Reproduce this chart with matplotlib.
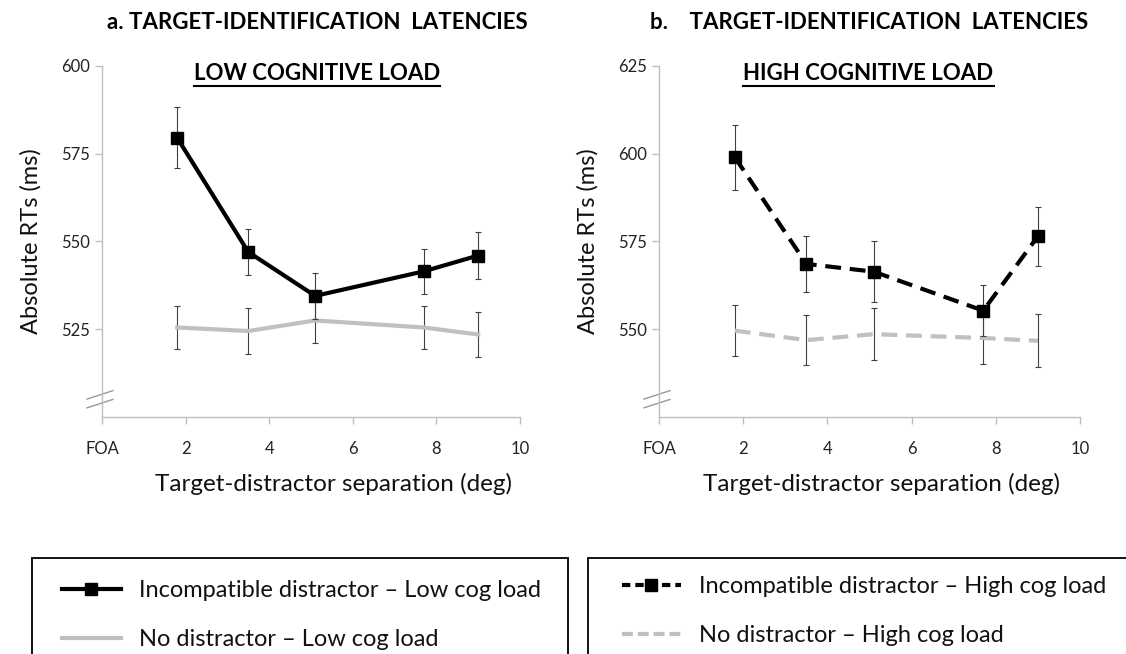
import numpy as np
import matplotlib
matplotlib.use("Agg")
import matplotlib.pyplot as plt
from matplotlib.lines import Line2D
from matplotlib.patches import Rectangle

plt.rcParams['font.family'] = ['Lato', 'DejaVu Sans']

# ---------------- data ----------------
sep = [1.8, 3.5, 5.1, 7.7, 9.0]

# a. low cognitive load
inc_low = [579.5, 547.0, 534.5, 541.5, 546.0]
inc_low_err = [8.7, 6.5, 6.5, 6.5, 6.7]
nod_low = [525.5, 524.5, 527.5, 525.5, 523.5]
nod_low_err = [6.0, 6.5, 6.3, 6.0, 6.5]

# b. high cognitive load
inc_high = [599.0, 568.6, 566.4, 555.3, 576.5]
inc_high_err = [9.3, 8.0, 8.6, 7.3, 8.4]
nod_high = [549.6, 546.9, 548.6, 547.5, 546.7]
nod_high_err = [7.3, 7.1, 7.4, 7.5, 7.6]

x_ticks = [0, 2, 4, 6, 8, 10]
x_ticklabels = ["FOA", "2", "4", "6", "8", "10"]
low_yticks = [525, 550, 575, 600]
high_yticks = [550, 575, 600, 625]

BLACK = "#000000"
GRAY = "#c0c0c0"
AXCOL = "#bfbfbf"
ERRCOL = "#404040"
DASH = (3.8, 2.1)

fig = plt.figure(figsize=(11.26, 6.54), dpi=100)
ax1 = fig.add_axes([0.0906, 0.3624, 0.3712, 0.5367])
ax2 = fig.add_axes([0.5853, 0.3624, 0.3739, 0.5367])


def style_axis(ax, ylim, yticks, xlab_x):
    ax.set_xlim(0, 10)
    ax.set_ylim(*ylim)
    ax.set_xticks(x_ticks)
    ax.set_xticklabels(x_ticklabels)
    ax.set_yticks(yticks)
    for s in ["top", "right"]:
        ax.spines[s].set_visible(False)
    for s in ["left", "bottom"]:
        ax.spines[s].set_color(AXCOL)
        ax.spines[s].set_linewidth(1.0)
    ax.tick_params(axis="both", colors=AXCOL, length=5, width=1.0,
                   labelcolor="#222222", labelsize=12)
    ax.tick_params(axis="x", pad=12)
    ax.set_ylabel("Absolute RTs (ms)", fontsize=17, color="#111111", labelpad=14)
    ax.set_xlabel("Target-distractor separation (deg)", fontsize=17.5,
                  color="#111111")
    ax.xaxis.set_label_coords(xlab_x, -0.16)
    # axis break marks
    for y0 in (0.026, 0.051):
        ax.plot([-0.036, 0.026], [y0, y0 + 0.024], transform=ax.transAxes,
                color="#999999", lw=1.0, clip_on=False)


# panel a
style_axis(ax1, (500, 600), low_yticks, 0.555)
ax1.errorbar(sep, nod_low, yerr=nod_low_err, color=GRAY, lw=3,
             ecolor=ERRCOL, elinewidth=0.8, capsize=2, capthick=0.8, zorder=2)
ax1.errorbar(sep, inc_low, yerr=inc_low_err, color=BLACK, lw=3, marker="s",
             ms=9, ecolor=ERRCOL, elinewidth=0.8, capsize=2, capthick=0.8, zorder=3)

# panel b
style_axis(ax2, (525, 625), high_yticks, 0.529)
ax2.errorbar(sep, nod_high, yerr=nod_high_err, color=GRAY, lw=3, dashes=DASH,
             ecolor=ERRCOL, elinewidth=0.8, capsize=2, capthick=0.8, zorder=2)
ax2.errorbar(sep, inc_high, yerr=inc_high_err, color=BLACK, lw=3, dashes=DASH,
             marker="s", ms=9, ecolor=ERRCOL, elinewidth=0.8, capsize=2,
             capthick=0.8, zorder=3)

# titles
fig.text(0.282, 0.966, "a. TARGET-IDENTIFICATION  LATENCIES", ha="center",
         va="center", fontsize=16, fontweight="bold")
fig.text(0.772, 0.966, "b.    TARGET-IDENTIFICATION  LATENCIES", ha="center",
         va="center", fontsize=16, fontweight="bold")
for cx, txt in [(0.2815, "LOW COGNITIVE LOAD"), (0.7713, "HIGH COGNITIVE LOAD")]:
    t = fig.text(cx, 0.887, txt, ha="center", va="center", fontsize=16,
                 fontweight="bold")
    fig.canvas.draw()
    bb = t.get_window_extent().transformed(fig.transFigure.inverted())
    fig.add_artist(Line2D([bb.x0, bb.x1], [bb.y0 - 0.002, bb.y0 - 0.002],
                          transform=fig.transFigure, color="black", lw=1.5))

# legend boxes
for x0, w in [(32 / 1126, 536 / 1126), (588 / 1126, 560 / 1126)]:
    fig.add_artist(Rectangle((x0, -0.05), w, 1 - 558 / 654 + 0.05,
                             transform=fig.transFigure, fill=False,
                             edgecolor="black", lw=1.3))

h_inc_low = Line2D([], [], color=BLACK, lw=3, marker="s", ms=8)
h_nod_low = Line2D([], [], color=GRAY, lw=3)
h_inc_high = Line2D([], [], color=BLACK, lw=3, dashes=(2.0, 1.2), marker="s", ms=8)
h_nod_high = Line2D([], [], color=GRAY, lw=3, dashes=(2.6, 1.2))

leg_kw = dict(frameon=False, fontsize=17, handlelength=2.5, handletextpad=0.75,
              labelspacing=1.2, labelcolor="#111111", borderpad=0)
fig.legend([h_inc_low, h_nod_low],
           ["Incompatible distractor \u2013 Low cog load",
            "No distractor \u2013 Low cog load"],
           loc="upper left", bbox_to_anchor=(50 / 1126, 1 - 568 / 654), **leg_kw)
fig.legend([h_inc_high, h_nod_high],
           ["Incompatible distractor \u2013 High cog load",
            "No distractor \u2013 High cog load"],
           loc="upper left", bbox_to_anchor=(610 / 1126, 1 - 564 / 654), **leg_kw)

fig.savefig("out.png", dpi=100)
